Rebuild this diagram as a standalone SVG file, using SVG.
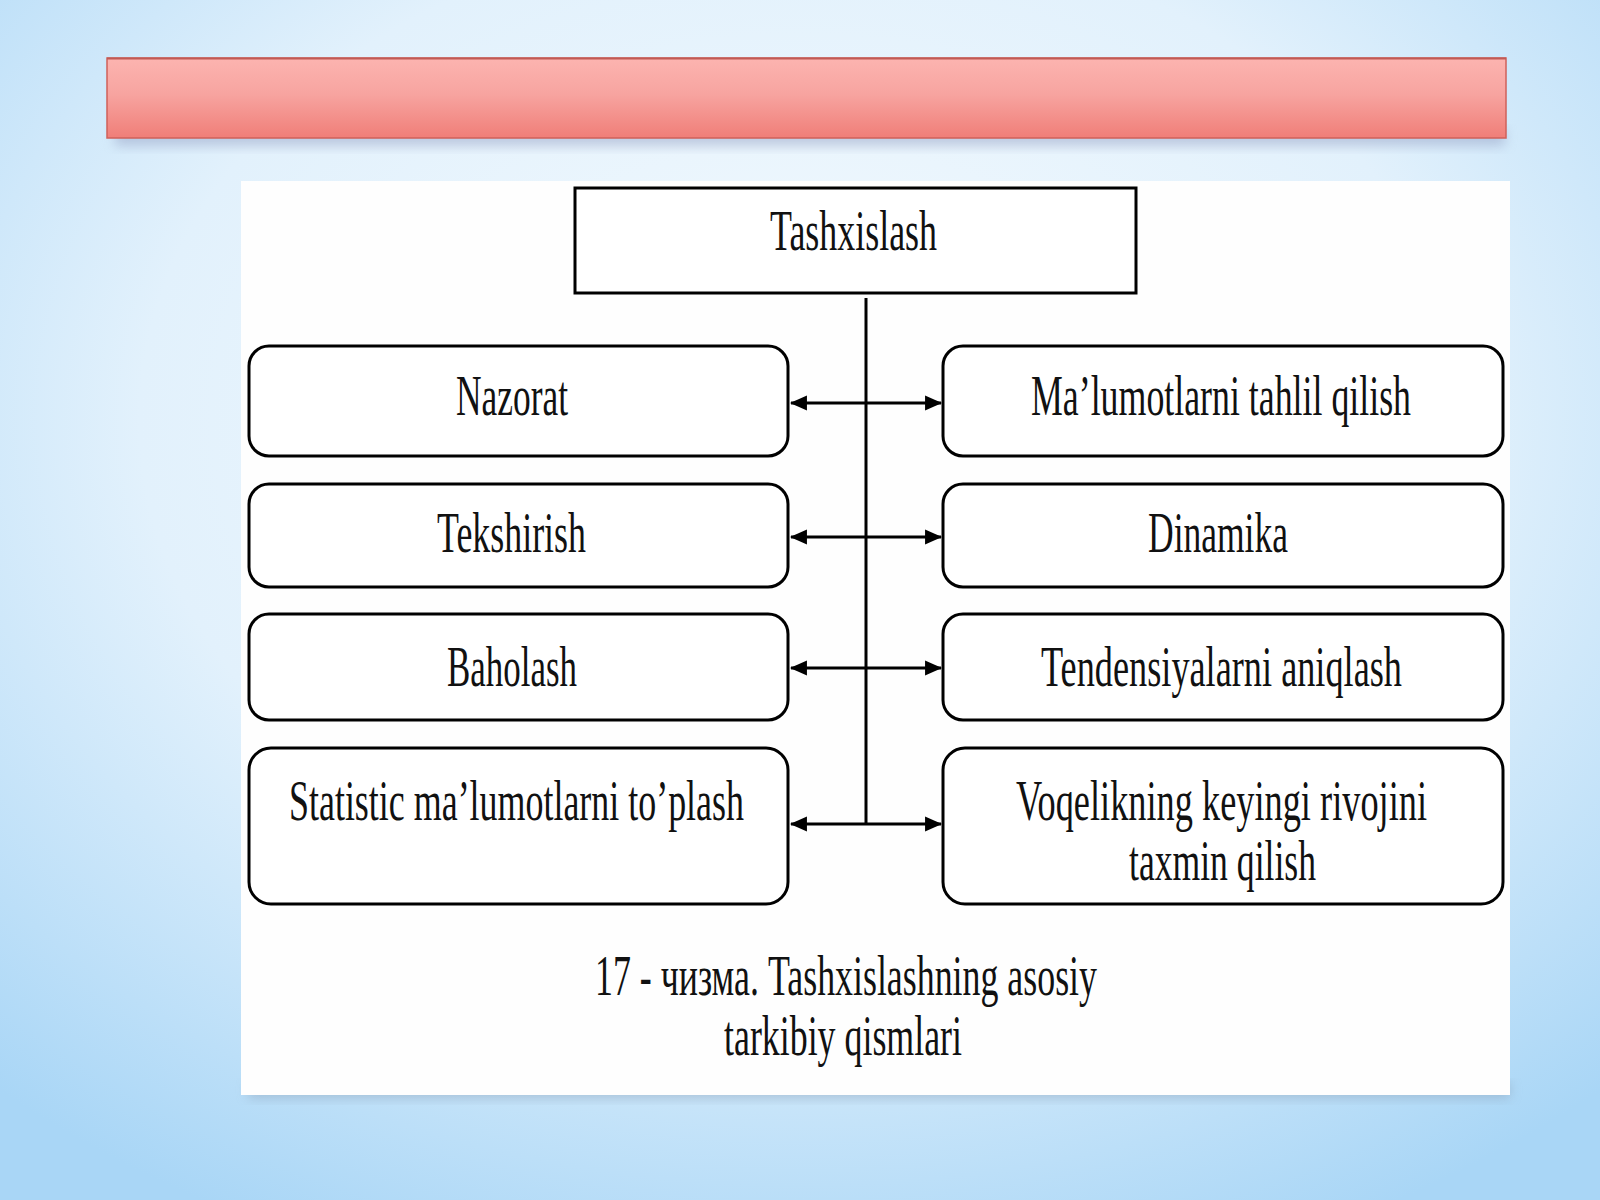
<svg xmlns="http://www.w3.org/2000/svg" width="1600" height="1200" viewBox="0 0 1600 1200">
<defs>
<radialGradient id="bg" cx="0.5" cy="0.35" r="0.75">
<stop offset="0" stop-color="#f4fafe"/>
<stop offset="0.55" stop-color="#e2f1fc"/>
<stop offset="1" stop-color="#a9d6f6"/>
</radialGradient>
<linearGradient id="red" x1="0" y1="0" x2="0" y2="1">
<stop offset="0" stop-color="#fcb4b0"/>
<stop offset="0.45" stop-color="#f7a4a0"/>
<stop offset="1" stop-color="#f07e78"/>
</linearGradient>
<filter id="sh" x="-5%" y="-20%" width="110%" height="160%">
<feGaussianBlur stdDeviation="6"/>
</filter>
<marker id="ah" viewBox="0 0 16 16" refX="15" refY="8" markerWidth="17" markerHeight="17" markerUnits="userSpaceOnUse" orient="auto-start-reverse">
<path d="M0,1 L16,8 L0,15 Z" fill="#000"/>
</marker>
<style>
.box{fill:#fff;stroke:#000;stroke-width:3}
.t{font-family:"Liberation Serif","Times New Roman",serif;font-size:40px;fill:#111}
.c{stroke:#000;stroke-width:3;fill:none}
</style>
</defs>
<rect width="1600" height="1200" fill="url(#bg)"/>
<rect x="115" y="128" width="1390" height="18" fill="#9aa6c8" opacity="0.55" filter="url(#sh)"/>
<rect x="107" y="58" width="1399" height="80" fill="url(#red)" stroke="#d0605a" stroke-width="1.5"/>
<line x1="107" y1="58.5" x2="1506" y2="58.5" stroke="#c05a55" stroke-width="2"/>
<rect x="248" y="1082" width="1262" height="16" fill="#8fa4bc" opacity="0.55" filter="url(#sh)"/>
<rect x="241" y="181" width="1269" height="914" fill="#fefefe"/>

<g id="connectors">
<line class="c" x1="866" y1="298" x2="866" y2="824" stroke-width="2"/>
<line class="c" x1="791" y1="403" x2="941" y2="403" marker-start="url(#ah)" marker-end="url(#ah)"/>
<line class="c" x1="791" y1="537" x2="941" y2="537" marker-start="url(#ah)" marker-end="url(#ah)"/>
<line class="c" x1="791" y1="668" x2="941" y2="668" marker-start="url(#ah)" marker-end="url(#ah)"/>
<line class="c" x1="791" y1="824" x2="941" y2="824" marker-start="url(#ah)" marker-end="url(#ah)"/>
</g>

<g id="n-tashxislash">
<rect class="box" x="575" y="188" width="561" height="105"/>
<text class="t" transform="translate(770,250) scale(1,1.4)" textLength="167" lengthAdjust="spacingAndGlyphs">Tashxislash</text>
</g>
<g id="n-nazorat">
<rect class="box" x="249" y="346" width="539" height="110" rx="20"/>
<text class="t" transform="translate(456,415) scale(1,1.4)" textLength="112" lengthAdjust="spacingAndGlyphs">Nazorat</text>
</g>
<g id="n-malumotlarni">
<rect class="box" x="943" y="346" width="560" height="110" rx="20"/>
<text class="t" transform="translate(1031,415) scale(1,1.4)" textLength="380" lengthAdjust="spacingAndGlyphs">Ma’lumotlarni tahlil qilish</text>
</g>
<g id="n-tekshirish">
<rect class="box" x="249" y="484" width="539" height="103" rx="20"/>
<text class="t" transform="translate(437,552) scale(1,1.4)" textLength="149" lengthAdjust="spacingAndGlyphs">Tekshirish</text>
</g>
<g id="n-dinamika">
<rect class="box" x="943" y="484" width="560" height="103" rx="20"/>
<text class="t" transform="translate(1148,552) scale(1,1.4)" textLength="140" lengthAdjust="spacingAndGlyphs">Dinamika</text>
</g>
<g id="n-baholash">
<rect class="box" x="249" y="614" width="539" height="106" rx="20"/>
<text class="t" transform="translate(447,686) scale(1,1.4)" textLength="130" lengthAdjust="spacingAndGlyphs">Baholash</text>
</g>
<g id="n-tendensiya">
<rect class="box" x="943" y="614" width="560" height="106" rx="20"/>
<text class="t" transform="translate(1041,686) scale(1,1.4)" textLength="361" lengthAdjust="spacingAndGlyphs">Tendensiyalarni aniqlash</text>
</g>
<g id="n-statistic">
<rect class="box" x="249" y="748" width="539" height="156" rx="22"/>
<text class="t" transform="translate(289,820) scale(1,1.4)" textLength="455" lengthAdjust="spacingAndGlyphs">Statistic ma’lumotlarni to’plash</text>
</g>
<g id="n-voqelik">
<rect class="box" x="943" y="748" width="560" height="156" rx="22"/>
<text class="t" transform="translate(1016,820) scale(1,1.4)" textLength="411" lengthAdjust="spacingAndGlyphs">Voqelikning keyingi rivojini</text>
<text class="t" transform="translate(1129,880) scale(1,1.4)" textLength="187" lengthAdjust="spacingAndGlyphs">taxmin qilish</text>
</g>
<g id="caption">
<text class="t" transform="translate(595,995) scale(1,1.4)" textLength="502" lengthAdjust="spacingAndGlyphs">17 - чизма. Tashxislashning asosiy</text>
<text class="t" transform="translate(724,1055) scale(1,1.4)" textLength="238" lengthAdjust="spacingAndGlyphs">tarkibiy qismlari</text>
</g>
</svg>
